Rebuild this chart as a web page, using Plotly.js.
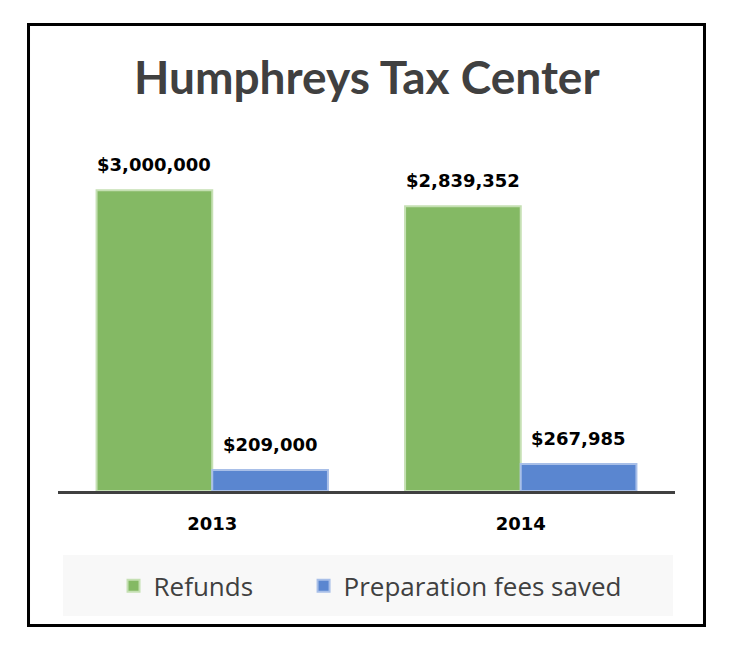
<!DOCTYPE html>
<html>
<head>
<meta charset="utf-8">
<script src="https://cdn.plot.ly/plotly-3.0.1.min.js"></script>
<style>
  html, body { margin: 0; padding: 0; background: #ffffff; }
  #chart { width: 738px; height: 654px; }
</style>
</head>
<body>
<div id="chart"></div>
<script>
// ---- data ----
const years = ['2013', '2014'];
const refunds = [3000000, 2839352];
const feesSaved = [209000, 267985];
const refundLabels = ['$3,000,000', '$2,839,352'];
const feeLabels = ['$209,000', '$267,985'];
const seriesNames = ['Refunds', 'Preparation fees saved'];

const xpos = years.map((_, i) => i);   // category slots

const green = '#84B964';
const greenEdge = '#C5E0B3';
const blue = '#5A86D0';
const blueEdge = '#A8BFE8';

const bargap = 0.25;
const halfOffset = (1 - bargap) / 4;   // centre of each bar in a 2-bar group

const labelFont = { family: 'DejaVu Sans', size: 18, color: '#000000' };

const traces = [
  {
    type: 'bar', name: seriesNames[0], x: xpos, y: refunds,
    marker: { color: green, line: { color: greenEdge, width: 2 } },
    hoverinfo: 'skip', legend: 'legend'
  },
  {
    type: 'bar', name: seriesNames[1], x: xpos, y: feesSaved,
    marker: { color: blue, line: { color: blueEdge, width: 2 } },
    hoverinfo: 'skip', legend: 'legend2'
  }
];

const annotations = [];
xpos.forEach((xv, i) => {
  annotations.push({
    x: xv - halfOffset, y: refunds[i], xref: 'x', yref: 'y', text: '<b>' + refundLabels[i] + '</b>',
    showarrow: false, xanchor: 'center', yanchor: 'bottom', yshift: 13,
    font: labelFont
  });
  annotations.push({
    x: xv + halfOffset, y: feesSaved[i], xref: 'x', yref: 'y', text: '<b>' + feeLabels[i] + '</b>',
    showarrow: false, xanchor: 'center', yanchor: 'bottom', yshift: 13,
    font: labelFont
  });
});

const legendFont = { family: 'Open Sans', size: 26, color: '#404040' };

const layout = {
  width: 738, height: 654,
  paper_bgcolor: '#ffffff', plot_bgcolor: '#ffffff',
  margin: { l: 58, r: 63, t: 140, b: 163, pad: 0 },
  title: {
    text: '<b>Humphreys Tax Center</b>',
    font: { family: 'Lato', size: 46, color: '#404040' },
    x: 0.497, xanchor: 'center', xref: 'container',
    y: 0.8815, yanchor: 'middle', yref: 'container'
  },
  barmode: 'group', bargap: bargap, bargroupgap: 0,
  xaxis: {
    type: 'linear', range: [-0.5, xpos.length - 0.5],
    tickmode: 'array', tickvals: xpos, ticktext: years.map(y => '<b>' + y + '</b>'),
    showline: true, linecolor: '#404040', linewidth: 3,
    showgrid: false, zeroline: false, ticks: '',
    ticklabelstandoff: 14,
    tickfont: { family: 'DejaVu Sans', size: 18, color: '#000000' },
    fixedrange: true
  },
  yaxis: {
    range: [0, 3500000], visible: false, showgrid: false, zeroline: false, fixedrange: true
  },
  showlegend: true,
  legend: {
    orientation: 'h', x: 0.09, xanchor: 'left', y: -0.27, yanchor: 'middle',
    xref: 'paper', yref: 'paper',
    bgcolor: 'rgba(0,0,0,0)', borderwidth: 0,
    font: legendFont
  },
  legend2: {
    orientation: 'h', x: 0.398, xanchor: 'left', y: -0.27, yanchor: 'middle',
    xref: 'paper', yref: 'paper',
    bgcolor: 'rgba(0,0,0,0)', borderwidth: 0,
    font: legendFont
  },
  shapes: [
    {
      type: 'rect', xref: 'paper', yref: 'paper', layer: 'below',
      x0: 0.0081, x1: 0.9968, y0: -0.3561, y1: -0.1823,
      fillcolor: '#F8F8F8', line: { width: 0 }
    },
    {
      type: 'rect', xref: 'paper', yref: 'paper', layer: 'above',
      x0: -0.0478, x1: 1.0478, y0: -0.3832, y1: 1.3291,
      fillcolor: 'rgba(0,0,0,0)', line: { color: '#000000', width: 3 }
    }
  ],
  annotations: annotations
};

Plotly.newPlot('chart', traces, layout, { displayModeBar: false, staticPlot: true });
</script>
</body>
</html>
